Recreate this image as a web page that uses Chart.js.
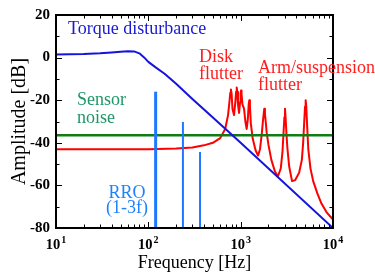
<!DOCTYPE html>
<html>
<head>
<meta charset="utf-8">
<script src="https://cdn.jsdelivr.net/npm/chart.js@4.4.0/dist/chart.umd.min.js"></script>
<style>
  body { margin: 0; background: #fff; }
  #chart { display: block; }
</style>
</head>
<body>
<canvas id="chart" width="375" height="274"></canvas>
<script>
'use strict';

// values: frequency in Hz, amplitude in dB
var torqueFreq = [10, 20, 30, 40, 50, 60, 70, 80, 90, 100, 120, 150, 200, 300, 500, 1000, 10000];
var torqueDb = [1.5, 1.7, 2.0, 2.4, 2.8, 3.0, 2.9, 2.0, 0.1, -2.0, -4.6, -7.6, -12.3, -19.4, -28.1, -40, -80];

var flutterFreq = [10, 100, 200, 300, 400, 500, 600, 680, 730, 755, 772, 785, 798, 815, 847, 875, 893, 906, 919, 935,
  960, 985, 998, 1009, 1022, 1045, 1087, 1125, 1161, 1195, 1222, 1241, 1260, 1290, 1350, 1450, 1541, 1620,
  1700, 1740, 1775, 1803, 1832, 1868, 1910, 2000, 2150, 2350, 2535, 2720, 2840, 2915, 2975, 3020, 3065,
  3125, 3200, 3350, 3600, 3900, 4300, 4600, 4750, 4880, 4980, 5057, 5135, 5235, 5400, 5700, 6100, 6800,
  7500, 8500, 9300, 10000];
var flutterDb = [-43, -43, -42.7, -42.2, -41.2, -40, -37.8, -33.5, -27, -21, -16.5, -15, -17, -24, -27, -21, -16, -14, -16, -22,
  -26, -21, -17, -15.5, -17, -22, -24, -30, -33.5, -29, -22, -20, -23, -31, -38, -43.5, -46, -43,
  -35, -30, -26.5, -24, -26.5, -30, -35, -41, -48, -53.5, -55.7, -52, -44, -35, -28, -24, -28,
  -35, -42, -51, -58, -57.5, -54, -48, -40, -30, -23, -20, -23, -31, -43, -52, -58, -64,
  -68.5, -72.5, -74.5, -76];

var noiseFreq = [10, 10000];
var noiseDb = [-36.4, -36.4];

// repeatable run-out, 1f to 3f
var rroFreq = [120, 237, 363];
var rroDb = [-16, -30.2, -44.3];
var rroWidth = [3, 2, 2];

var xTicks = [10, 100, 1000, 10000];

function toPoints(xs, ys) {
  var pts = [];
  for (var i = 0; i < xs.length; i++) {
    pts.push({ x: xs[i], y: ys[i] });
  }
  return pts;
}

var datasets = [
  { label: 'Torque disturbance', data: toPoints(torqueFreq, torqueDb), borderColor: 'rgb(20,20,220)', borderWidth: 2, order: 2 },
  { label: 'Sensor noise', data: toPoints(noiseFreq, noiseDb), borderColor: 'rgb(15,125,20)', borderWidth: 2.5, order: 3 },
  { label: 'Flutter', data: toPoints(flutterFreq, flutterDb), borderColor: 'rgb(255,0,0)', borderWidth: 2, order: 4 }
];
for (var k = 0; k < rroFreq.length; k++) {
  datasets.push({
    label: 'RRO ' + (k + 1) + 'f',
    data: [{ x: rroFreq[k], y: -80 }, { x: rroFreq[k], y: rroDb[k] }],
    borderColor: 'rgb(30,120,255)',
    borderWidth: rroWidth[k],
    order: 1
  });
}

var serif = '"Liberation Serif", "Times New Roman", serif';

// frame, inward ticks, x labels and the notes on the plot
var framePlugin = {
  id: 'framePlugin',
  afterDatasetsDraw: function (chart) {
    var ctx = chart.ctx;
    var a = chart.chartArea;
    var xs = chart.scales.x;
    var ys = chart.scales.y;
    ctx.save();
    ctx.strokeStyle = '#000';
    ctx.lineWidth = 1;
    ctx.beginPath();
    for (var d = 10; d < 10000; d *= 10) {
      for (var m = 1; m < 10; m++) {
        var px = Math.round(xs.getPixelForValue(d * m)) + 0.5;
        var len = m === 1 ? 6 : 3.5;
        ctx.moveTo(px, a.bottom); ctx.lineTo(px, a.bottom - len);
        ctx.moveTo(px, a.top); ctx.lineTo(px, a.top + len);
      }
    }
    for (var v = -80; v <= 20; v += 10) {
      var py = Math.round(ys.getPixelForValue(v)) + 0.5;
      var l = v % 20 === 0 ? 6 : 3.5;
      ctx.moveTo(a.left, py); ctx.lineTo(a.left + l, py);
      ctx.moveTo(a.right, py); ctx.lineTo(a.right - l, py);
    }
    ctx.stroke();
    ctx.lineWidth = 2;
    ctx.strokeRect(a.left, a.top, a.right - a.left, a.bottom - a.top);

    // x tick labels 10^n
    ctx.fillStyle = '#000';
    ctx.textBaseline = 'alphabetic';
    ctx.textAlign = 'left';
    for (var i = 0; i < xTicks.length; i++) {
      var x = xs.getPixelForValue(xTicks[i]);
      var exp = String(Math.round(Math.log10(xTicks[i])));
      ctx.font = 'bold 14.5px ' + serif;
      var w1 = ctx.measureText('10').width;
      ctx.font = 'bold 10px ' + serif;
      var w2 = ctx.measureText(exp).width;
      var x0 = x - (w1 + w2 + 1) / 2;
      ctx.font = 'bold 14.5px ' + serif;
      ctx.fillText('10', x0, 248.5);
      ctx.font = 'bold 10px ' + serif;
      ctx.fillText(exp, x0 + w1 + 1, 243);
    }

    // annotations
    ctx.font = '18px ' + serif;
    ctx.fillStyle = 'rgb(25,25,210)';
    ctx.fillText('Torque disturbance', 68, 34);
    ctx.fillStyle = 'rgb(255,30,30)';
    ctx.fillText('Disk', 199, 62);
    ctx.fillText('flutter', 199, 79);
    ctx.fillText('Arm/suspension', 258, 72.5);
    ctx.fillText('flutter', 258, 89.5);
    ctx.fillStyle = 'rgb(30,150,105)';
    ctx.fillText('Sensor', 77, 105);
    ctx.fillText('noise', 77, 123);
    ctx.fillStyle = 'rgb(30,130,255)';
    ctx.textAlign = 'center';
    ctx.fillText('RRO', 127, 197.5);
    ctx.fillText('(1-3f)', 127, 213);
    ctx.restore();
  }
};

var ctx = document.getElementById('chart').getContext('2d');
new Chart(ctx, {
  type: 'line',
  data: { datasets: datasets },
  options: {
    responsive: false,
    animation: false,
    devicePixelRatio: 1,
    layout: { padding: { top: 8.5, right: 42, left: 0, bottom: 0 } },
    elements: {
      point: { radius: 0, hoverRadius: 0 },
      line: { tension: 0, borderCapStyle: 'butt', borderJoinStyle: 'round' }
    },
    plugins: {
      legend: { display: false },
      tooltip: { enabled: false }
    },
    scales: {
      x: {
        type: 'logarithmic',
        min: 10,
        max: 10000,
        grid: { display: false, drawTicks: false },
        border: { display: false },
        ticks: { display: false },
        title: {
          display: true,
          text: 'Frequency [Hz]',
          color: '#000',
          font: { family: serif, size: 18, lineHeight: 1.2 },
          padding: { top: 0, bottom: 0 }
        },
        afterFit: function (scale) { scale.height = 46; }
      },
      y: {
        type: 'linear',
        min: -80,
        max: 20,
        grid: { display: false, drawTicks: false },
        border: { display: false },
        ticks: {
          stepSize: 20,
          color: '#000',
          padding: 6,
          font: { family: serif, size: 15, weight: 'bold' }
        },
        title: {
          display: true,
          text: 'Amplitude [dB]',
          color: '#000',
          font: { family: serif, size: 20, lineHeight: 1.2 },
          padding: { top: 8, bottom: 0 }
        },
        afterFit: function (scale) { scale.width = 56; }
      }
    }
  },
  plugins: [framePlugin]
});
</script>
</body>
</html>
